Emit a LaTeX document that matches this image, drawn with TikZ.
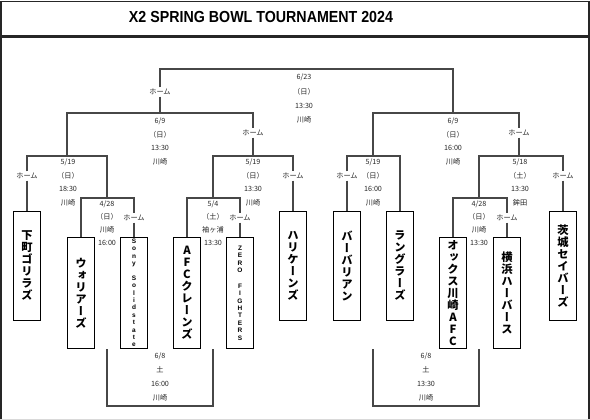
\documentclass[tikz,border=0pt]{standalone}
\usepackage{fontspec}
\usepackage{graphicx}
\newfontfamily\jp{Noto Sans CJK JP}
\newfontfamily\jpv{Noto Sans CJK JP}[RawFeature=+vert]
\newfontfamily\titlefont{Liberation Sans}[FakeStretch=0.89]
\newfontfamily\latin{Liberation Sans}
\tikzset{
  conn/.style={draw=black!72, line width=1.2pt},
  lab/.style={font=\jp\fontsize{7.2}{7.2}\selectfont, inner sep=1.5pt, text=black!85},
  team/.style={draw=black, line width=0.9pt, minimum width=27pt, inner sep=0pt, align=center, anchor=north,
    font=\jpv\bfseries\fontsize{11.3}{12}\selectfont},
  tall/.style={minimum height=111pt},
  short/.style={minimum height=109pt},
  small/.style={font=\latin\bfseries\fontsize{6.5}{7.4}\selectfont},
}
\newcommand\infoblk[8]{%
  \node[lab] (#1a) at (#2,#3) {#5};
  \node[lab] (#1b) at (#2,#3+#4) {#6};
  \node[lab] (#1c) at (#2,#3+2*#4) {#7};
  \node[lab] (#1d) at (#2,#3+3*#4) {#8};
}
\begin{document}
\begin{tikzpicture}[x=1pt,y=-1pt]
\useasboundingbox (0,0) rectangle (590,420);
% frame
\draw[line width=1.6pt, draw=black!85] (1,1.5) rectangle (589,36);
\draw[line width=1.6pt, draw=black!85] (1,37.5) -- (589,37.5);
\draw[line width=2pt, draw=black!85] (1,37) -- (1,420);
\draw[line width=2pt, draw=black!85] (589,37) -- (589,420);
\draw[line width=0.6pt, draw=black!15] (0,419) -- (590,419);
\node[font=\titlefont\bfseries\fontsize{16}{16}\selectfont, inner sep=0pt] (title) at (261,17) {X2 SPRING BOWL TOURNAMENT 2024};

% teams
\node[team, short] (shita) at (27,211) {下\\町\\ゴ\\リ\\ラ\\ズ};
\node[team, tall] (wor) at (81,237) {ウ\\ォ\\リ\\ア\\ー\\ズ};
\node[team, tall, small] (sony) at (134,237) {S\\o\\n\\y\\[7.4pt]S\\o\\l\\i\\d\\s\\t\\a\\t\\e};
\node[team, tall] (afc) at (187,237) {A\\F\\C\\ク\\レ\\ー\\ン\\ズ};
\node[team, tall, small] (zero) at (240,237) {Z\\E\\R\\O\\[8.4pt]F\\I\\G\\H\\T\\E\\R\\S};
\node[team, short] (hur) at (293,211) {ハ\\リ\\ケ\\ー\\ン\\ズ};
\node[team, short] (bar) at (347,211) {バ\\ー\\バ\\リ\\ア\\ン};
\node[team, short] (wra) at (400,211) {ラ\\ン\\グ\\ラ\\ー\\ズ};
\node[team, tall] (ox) at (453,237) {オ\\ッ\\ク\\ス\\川\\崎\\A\\F\\C};
\node[team, tall] (yoko) at (507,237) {横\\浜\\ハ\\ー\\バ\\ー\\ス};
\node[team, short] (iba) at (563,211) {茨\\城\\セ\\イ\\バ\\ー\\ズ};

% home labels
\node[lab] (hF) at (160,92) {ホーム};
\node[lab] (hSL) at (253,133) {ホーム};
\node[lab] (hSR) at (519,133) {ホーム};
\node[lab] (hQ1) at (27,176) {ホーム};
\node[lab] (hQ2) at (293,176) {ホーム};
\node[lab] (hQ3) at (347,176) {ホーム};
\node[lab] (hQ4) at (563,176) {ホーム};
\node[lab] (hRa) at (134,218) {ホーム};
\node[lab] (hRb) at (240,218) {ホーム};
\node[lab] (hRc) at (507,218) {ホーム};

% coordinates
\coordinate (f1) at (160,69); \coordinate (f2) at (453,69);
\coordinate (sl1) at (67,113); \coordinate (sl2) at (253,113); \coordinate (slm) at (160,113);
\coordinate (sr1) at (373,113); \coordinate (sr2) at (519,113); \coordinate (srm) at (453,113);
\coordinate (q1l) at (27,156); \coordinate (q1r) at (107,156); \coordinate (q1m) at (67,156);
\coordinate (q2l) at (213,156); \coordinate (q2r) at (293,156); \coordinate (q2m) at (253,156);
\coordinate (q3l) at (347,156); \coordinate (q3r) at (400,156); \coordinate (q3m) at (373,156);
\coordinate (q4l) at (479,156); \coordinate (q4r) at (563,156); \coordinate (q4m) at (519,156);
\coordinate (ral) at (81,198); \coordinate (rar) at (134,198); \coordinate (ram) at (107,198);
\coordinate (rbl) at (187,198); \coordinate (rbr) at (240,198); \coordinate (rbm) at (213,198);
\coordinate (rcl) at (453,198); \coordinate (rcr) at (507,198); \coordinate (rcm) at (479,198);
\coordinate (b1a) at (107,349); \coordinate (b1b) at (107,406); \coordinate (b1c) at (213,406); \coordinate (b1d) at (213,349);
\coordinate (b2a) at (373,349); \coordinate (b2b) at (373,406); \coordinate (b2c) at (479,406); \coordinate (b2d) at (479,349);

% final
\draw[conn] (hF.north) -- (f1) -- (f2) -- (srm);
\draw[conn] (hF.south) -- (slm);
% semis
\draw[conn] (q1m) -- (sl1) -- (sl2) -- (hSL.north);
\draw[conn] (hSL.south) -- (q2m);
\draw[conn] (q3m) -- (sr1) -- (sr2) -- (hSR.north);
\draw[conn] (hSR.south) -- (q4m);
% quarters
\draw[conn] (hQ1.north) -- (q1l) -- (q1r) -- (ram);
\draw[conn] (hQ1.south) -- (shita.north);
\draw[conn] (rbm) -- (q2l) -- (q2r) -- (hQ2.north);
\draw[conn] (hQ2.south) -- (hur.north);
\draw[conn] (hQ3.north) -- (q3l) -- (q3r) -- (wra.north);
\draw[conn] (hQ3.south) -- (bar.north);
\draw[conn] (rcm) -- (q4l) -- (q4r) -- (hQ4.north);
\draw[conn] (hQ4.south) -- (iba.north);
% first round
\draw[conn] (wor.north) -- (ral) -- (rar) -- (hRa.north);
\draw[conn] (hRa.south) -- (sony.north);
\draw[conn] (afc.north) -- (rbl) -- (rbr) -- (hRb.north);
\draw[conn] (hRb.south) -- (zero.north);
\draw[conn] (ox.north) -- (rcl) -- (rcr) -- (hRc.north);
\draw[conn] (hRc.south) -- (yoko.north);
% bottom brackets
\draw[conn] (b1a) -- (b1b) -- (b1c) -- (b1d);
\draw[conn] (b2a) -- (b2b) -- (b2c) -- (b2d);

% info
\infoblk{iF}{304}{77}{14.3}{6/23}{（日）}{13:30}{川崎}
\infoblk{iSL}{160}{121}{13.7}{6/9}{（日）}{13:30}{川崎}
\infoblk{iSR}{453}{121}{13.7}{6/9}{（日）}{16:00}{川崎}
\infoblk{iQa}{68}{162}{13.7}{5/19}{（日）}{18:30}{川崎}
\infoblk{iQb}{253}{162}{13.7}{5/19}{（日）}{13:30}{川崎}
\infoblk{iQc}{373}{162}{13.7}{5/19}{（日）}{16:00}{川崎}
\infoblk{iQd}{520}{162}{13.7}{5/18}{（土）}{13:30}{鉾田}
\infoblk{iRa}{107}{204}{13}{4/28}{（日）}{川崎}{16:00}
\infoblk{iRb}{213}{204}{13}{5/4}{（土）}{袖ヶ浦}{13:30}
\infoblk{iRc}{479}{204}{13}{4/28}{（日）}{川崎}{13:30}
\infoblk{iBa}{160}{356}{14}{6/8}{土}{16:00}{川崎}
\infoblk{iBb}{426}{356}{14}{6/8}{土}{13:30}{川崎}
\end{tikzpicture}
\end{document}
